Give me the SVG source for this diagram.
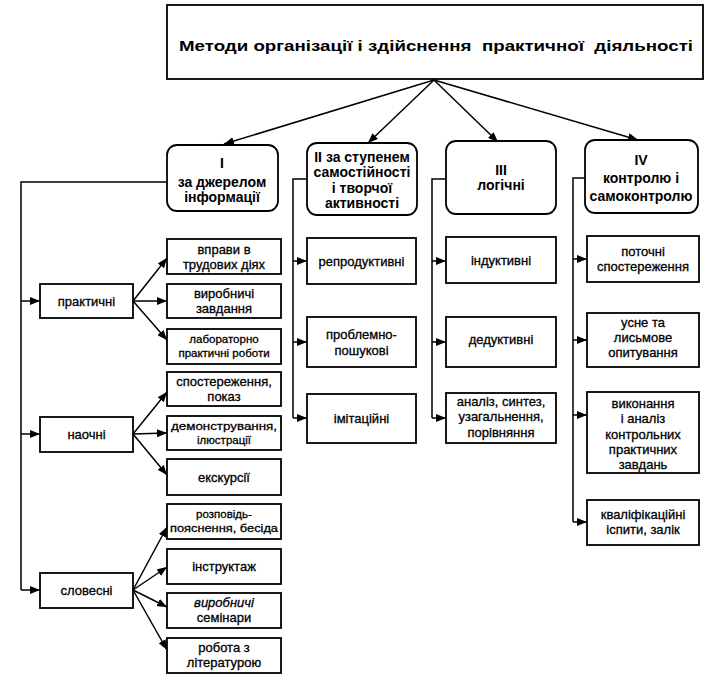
<svg xmlns="http://www.w3.org/2000/svg" width="727" height="695" viewBox="0 0 727 695">
<style>
.box{fill:#fff;stroke:#000;stroke-width:1.8}
.hdr{fill:#fff;stroke:#000;stroke-width:1.8}
.ln{fill:none;stroke:#000;stroke-width:1.5}
text{font-family:"Liberation Sans",Arial,sans-serif;fill:#000;text-anchor:middle}
.t{font-size:13px;stroke:#000;stroke-width:0.3}
.s{font-size:11.5px;stroke:#000;stroke-width:0.3}
.h{font-size:14px;font-weight:bold}
.ti{font-size:15.5px;font-weight:bold;white-space:pre}
</style>
<defs>
<marker id="ah" markerWidth="10" markerHeight="8" refX="10" refY="4" orient="auto" markerUnits="userSpaceOnUse">
<path d="M0,0 L10,4 L0,8 z" fill="#000"/>
</marker>
</defs>
<rect width="727" height="695" fill="#fff"/>

<g id="connectors">
<line class="ln" x1="434" y1="80" x2="224" y2="144" marker-end="url(#ah)"/>
<line class="ln" x1="434" y1="80" x2="368" y2="143" marker-end="url(#ah)"/>
<line class="ln" x1="434" y1="80" x2="498" y2="142" marker-end="url(#ah)"/>
<line class="ln" x1="434" y1="80" x2="638" y2="140" marker-end="url(#ah)"/>

<path class="ln" d="M167,182 H21 V590"/>
<line class="ln" x1="21" y1="301" x2="40" y2="301" marker-end="url(#ah)"/>
<line class="ln" x1="21" y1="434" x2="40" y2="434" marker-end="url(#ah)"/>
<line class="ln" x1="21" y1="590" x2="40" y2="590" marker-end="url(#ah)"/>

<line class="ln" x1="133" y1="301" x2="167" y2="258" marker-end="url(#ah)"/>
<line class="ln" x1="133" y1="301" x2="167" y2="301" marker-end="url(#ah)"/>
<line class="ln" x1="133" y1="301" x2="167" y2="340" marker-end="url(#ah)"/>
<line class="ln" x1="133" y1="434" x2="167" y2="392" marker-end="url(#ah)"/>
<line class="ln" x1="133" y1="434" x2="167" y2="433" marker-end="url(#ah)"/>
<line class="ln" x1="133" y1="434" x2="167" y2="475" marker-end="url(#ah)"/>
<line class="ln" x1="133" y1="590" x2="167" y2="527" marker-end="url(#ah)"/>
<line class="ln" x1="133" y1="590" x2="167" y2="567" marker-end="url(#ah)"/>
<line class="ln" x1="133" y1="590" x2="167" y2="607" marker-end="url(#ah)"/>
<line class="ln" x1="133" y1="590" x2="167" y2="650" marker-end="url(#ah)"/>

<path class="ln" d="M307,179 H293 V418"/>
<line class="ln" x1="293" y1="261" x2="307" y2="261" marker-end="url(#ah)"/>
<line class="ln" x1="293" y1="342" x2="307" y2="342" marker-end="url(#ah)"/>
<line class="ln" x1="293" y1="418" x2="307" y2="418" marker-end="url(#ah)"/>

<path class="ln" d="M446,179 H432 V418"/>
<line class="ln" x1="432" y1="261" x2="446" y2="261" marker-end="url(#ah)"/>
<line class="ln" x1="432" y1="342" x2="446" y2="342" marker-end="url(#ah)"/>
<line class="ln" x1="432" y1="418" x2="446" y2="418" marker-end="url(#ah)"/>

<path class="ln" d="M585,178 H573 V522"/>
<line class="ln" x1="573" y1="259" x2="587" y2="259" marker-end="url(#ah)"/>
<line class="ln" x1="573" y1="340" x2="587" y2="340" marker-end="url(#ah)"/>
<line class="ln" x1="573" y1="415" x2="587" y2="415" marker-end="url(#ah)"/>
<line class="ln" x1="573" y1="522" x2="587" y2="522" marker-end="url(#ah)"/>
</g>

<g id="title">
<rect class="box" x="167" y="5" width="536" height="74"/>
<text class="ti" x="436" y="51" textLength="514" lengthAdjust="spacingAndGlyphs">Методи організації і здійснення  практичної  діяльності</text>
</g>

<g id="h1">
<rect class="hdr" x="167" y="145" width="111" height="66" rx="10"/>
<text class="h" x="222" y="168">I</text>
<text class="h" x="222" y="187">за джерелом</text>
<text class="h" x="222" y="202">інформації</text>
</g>
<g id="h2">
<rect class="hdr" x="307" y="143" width="110" height="72" rx="10"/>
<text class="h" x="362" y="162">II за ступенем</text>
<text class="h" x="362" y="177">самостійності</text>
<text class="h" x="362" y="193">і творчої</text>
<text class="h" x="362" y="208">активності</text>
</g>
<g id="h3">
<rect class="hdr" x="446" y="141" width="110" height="73" rx="10"/>
<text class="h" x="501" y="175">III</text>
<text class="h" x="501" y="190">логічні</text>
</g>
<g id="h4">
<rect class="hdr" x="585" y="140" width="113" height="73" rx="10"/>
<text class="h" x="641" y="165">IV</text>
<text class="h" x="641" y="183">контролю і</text>
<text class="h" x="641" y="201">самоконтролю</text>
</g>

<g id="n-praktychni">
<rect class="box" x="40" y="284" width="93" height="34"/>
<text class="t" x="86.5" y="305.5">практичні</text>
</g>
<g id="n-naochni">
<rect class="box" x="40" y="417" width="93" height="35"/>
<text class="t" x="86.5" y="439">наочні</text>
</g>
<g id="n-slovesni">
<rect class="box" x="40" y="573" width="93" height="35"/>
<text class="t" x="86.5" y="595">словесні</text>
</g>

<g id="l1">
<rect class="box" x="167" y="239" width="114" height="35"/>
<text class="t" x="224" y="253.5">вправи в</text>
<text class="t" x="224" y="268.5">трудових діях</text>
</g>
<g id="l2">
<rect class="box" x="167" y="284" width="114" height="34"/>
<text class="t" x="224" y="298">виробничі</text>
<text class="t" x="224" y="313">завдання</text>
</g>
<g id="l3">
<rect class="box" x="167" y="329" width="114" height="35"/>
<text class="s" x="224" y="343">лабораторно</text>
<text class="s" x="224" y="357">практичні роботи</text>
</g>
<g id="l4">
<rect class="box" x="167" y="372" width="114" height="34"/>
<text class="t" x="224" y="386">спостереження,</text>
<text class="t" x="224" y="401">показ</text>
</g>
<g id="l5">
<rect class="box" x="167" y="416" width="114" height="34"/>
<text class="s" x="224" y="430" textLength="106" lengthAdjust="spacingAndGlyphs">демонстрування,</text>
<text class="s" x="224" y="444">ілюстрації</text>
</g>
<g id="l6">
<rect class="box" x="167" y="459" width="114" height="36"/>
<text class="t" x="224" y="482">екскурсії</text>
</g>
<g id="l7">
<rect class="box" x="167" y="504" width="114" height="35"/>
<text class="s" x="224" y="518">розповідь-</text>
<text class="s" x="224" y="532" textLength="108" lengthAdjust="spacingAndGlyphs">пояснення, бесіда</text>
</g>
<g id="l8">
<rect class="box" x="167" y="549" width="114" height="35"/>
<text class="t" x="224" y="571">інструктаж</text>
</g>
<g id="l9">
<rect class="box" x="167" y="593" width="114" height="35"/>
<text class="t" x="224" y="607" font-style="italic">виробничі</text>
<text class="t" x="224" y="622">семінари</text>
</g>
<g id="l10">
<rect class="box" x="167" y="638" width="114" height="35"/>
<text class="t" x="224" y="652">робота з</text>
<text class="t" x="224" y="667">літературою</text>
</g>

<g id="m1">
<rect class="box" x="307" y="238" width="109" height="46"/>
<text class="t" x="361.5" y="265.5">репродуктивні</text>
</g>
<g id="m2">
<rect class="box" x="307" y="317" width="109" height="50"/>
<text class="t" x="361.5" y="339">проблемно-</text>
<text class="t" x="361.5" y="355">пошукові</text>
</g>
<g id="m3">
<rect class="box" x="307" y="394" width="109" height="49"/>
<text class="t" x="361.5" y="422.5">імітаційні</text>
</g>

<g id="k1">
<rect class="box" x="446" y="237" width="110" height="46"/>
<text class="t" x="501" y="264.5">індуктивні</text>
</g>
<g id="k2">
<rect class="box" x="446" y="317" width="110" height="50"/>
<text class="t" x="501" y="344">дедуктивні</text>
</g>
<g id="k3">
<rect class="box" x="446" y="393" width="110" height="50"/>
<text class="t" x="501" y="406">аналіз, синтез,</text>
<text class="t" x="501" y="421">узагальнення,</text>
<text class="t" x="501" y="437">порівняння</text>
</g>

<g id="c1">
<rect class="box" x="587" y="236" width="112" height="46"/>
<text class="t" x="643" y="256">поточні</text>
<text class="t" x="643" y="271">спостереження</text>
</g>
<g id="c2">
<rect class="box" x="587" y="313" width="112" height="54"/>
<text class="t" x="643" y="327">усне та</text>
<text class="t" x="643" y="342">лисьмове</text>
<text class="t" x="643" y="357">опитування</text>
</g>
<g id="c3">
<rect class="box" x="587" y="392" width="112" height="81"/>
<text class="t" x="643" y="408">виконання</text>
<text class="t" x="643" y="423">і аналіз</text>
<text class="t" x="643" y="439">контрольних</text>
<text class="t" x="643" y="454">практичних</text>
<text class="t" x="643" y="469">завдань</text>
</g>
<g id="c4">
<rect class="box" x="587" y="500" width="112" height="45"/>
<text class="t" x="643" y="519">кваліфікаційні</text>
<text class="t" x="643" y="534">іспити, залік</text>
</g>
</svg>
